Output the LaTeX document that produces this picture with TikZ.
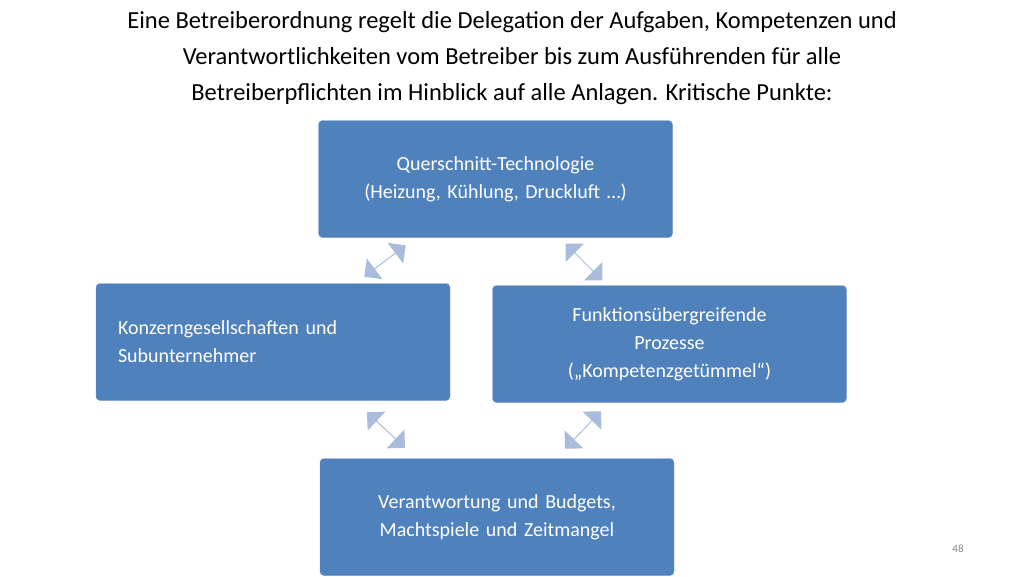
\documentclass[tikz,border=0pt]{standalone}
\usepackage{fontspec}
\setmainfont{Carlito}
\usetikzlibrary{shapes.arrows}
\definecolor{boxblue}{HTML}{4F81BD}
\definecolor{arrowblue}{HTML}{A9BCDC}
\begin{document}
\begin{tikzpicture}[x=1pt, y=-1pt]
\tikzstyle{topic}=[draw=boxblue!80!white, fill=boxblue, rounded corners=4pt, minimum width=354pt, minimum height=117pt, text width=330pt, align=center, text=white, font=\fontsize{20}{28}\selectfont]
\tikzstyle{link}=[double arrow, fill=arrowblue, minimum height=52pt, minimum width=26pt, double arrow head extend=5pt, inner sep=0pt]
\useasboundingbox (0,0) rectangle (1024,576);
\node[align=center, font=\fontsize{24.5}{36}\selectfont] (title) at (512,58) {Eine Betreiberordnung regelt die Delegation der Aufgaben, Kompetenzen und\\Verantwortlichkeiten vom Betreiber bis zum Ausführenden für alle\\Betreiberpflichten im Hinblick auf alle Anlagen. Kritische Punkte:};
\begin{scope}
\clip (0,0) rectangle (1024,576);
\node[topic] (Q) at (495.5,179) {Querschnitt-Technologie\\(Heizung, Kühlung, Druckluft …)};
\node[topic, text width=310pt, align=left] (K) at (273,342) {Konzerngesellschaften und\\Subunternehmer};
\node[topic] (F) at (669.5,344) {Funktionsübergreifende\\Prozesse\\(„Kompetenzgetümmel“)};
\node[topic] (V) at (497,517) {Verantwortung und Budgets,\\Machtspiele und Zeitmangel};
\end{scope}
\node[link, rotate=37] (QK) at (385,261) {};
\node[link, rotate=-45] (QF) at (584,262) {};
\node[link, rotate=-43] (KV) at (386,430) {};
\node[link, rotate=46] (FV) at (583,430) {};
\node[text=gray, font=\fontsize{11}{13}\selectfont] (page) at (958,549) {48};
\end{tikzpicture}
\end{document}
